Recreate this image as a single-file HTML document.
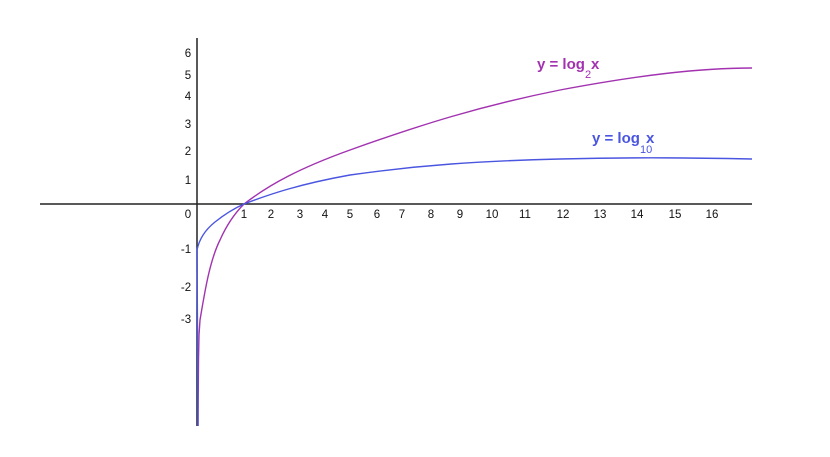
<!DOCTYPE html>
<html><head><style>
html,body{margin:0;padding:0;background:#fff;width:830px;height:457px;overflow:hidden}
svg text{font-family:"Liberation Sans",sans-serif;font-size:11.5px;fill:#111}
</style></head><body>
<svg width="830" height="457" viewBox="0 0 830 457">
<line x1="197" y1="38" x2="197" y2="426" stroke="#222" stroke-width="1.5"/>
<line x1="40" y1="204" x2="752" y2="204" stroke="#222" stroke-width="1.5"/>
<g text-anchor="middle">
<text x="188" y="218">0</text>
<text x="244" y="218">1</text><text x="271" y="218">2</text><text x="300" y="218">3</text>
<text x="325" y="218">4</text><text x="350" y="218">5</text><text x="377" y="218">6</text>
<text x="402" y="218">7</text><text x="431" y="218">8</text><text x="460" y="218">9</text>
<text x="492" y="218">10</text><text x="525" y="218">11</text><text x="563" y="218">12</text>
<text x="600" y="218">13</text><text x="637" y="218">14</text><text x="675" y="218">15</text>
<text x="712" y="218">16</text>
<text x="188" y="57">6</text><text x="188" y="79">5</text><text x="188" y="100">4</text>
<text x="188" y="128">3</text><text x="188" y="155">2</text><text x="188" y="184">1</text>
<text x="186" y="253">-1</text><text x="186" y="291">-2</text><text x="186" y="323">-3</text>
</g>
<path d="M198,426 L198.5,360 L199,335 L200,320 C205,290 210,260 220,240 C228,222 236,212 244,204 C270,184 300,168 350,150 C420,125 480,106 560,90 C640,75 700,68 752,68" fill="none" stroke="#a232b0" stroke-width="1.4"/>
<path d="M198,426 L197.5,330 L197,250 C199,240 205,230 215,222 C225,214 235,208 244,204 C270,194 300,184 350,175 C420,165 480,161 560,159 C640,157 700,158 752,159" fill="none" stroke="#4a55e0" stroke-width="1.4"/>
<text x="537" y="69" style="font-size:15px;fill:#a232b0;font-weight:bold">y = log</text>
<text x="585" y="78" style="font-size:11px;fill:#a232b0">2</text>
<text x="591" y="69" style="font-size:15px;fill:#a232b0;font-weight:bold">x</text>
<text x="592" y="143" style="font-size:15px;fill:#4a55e0;font-weight:bold">y = log</text>
<text x="640" y="153" style="font-size:11px;fill:#4a55e0">10</text>
<text x="646" y="143" style="font-size:15px;fill:#4a55e0;font-weight:bold">x</text>
</svg>
</body></html>
